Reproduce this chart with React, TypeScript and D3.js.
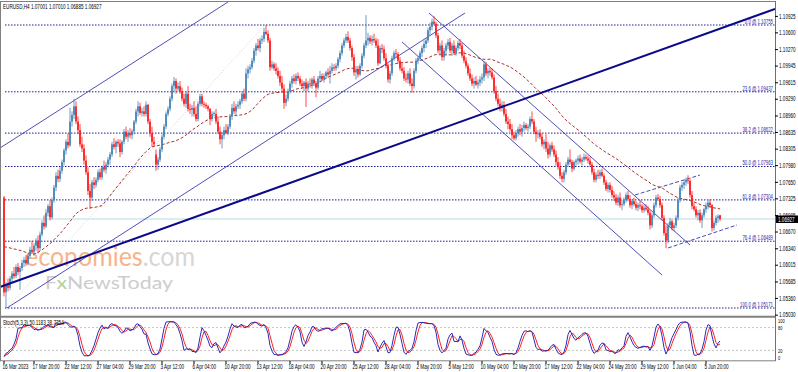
import React from 'react';
import * as d3 from 'd3';

// EURUSD H4 bars, one string per trading day (15 Mar .. 7 Jun 2023)
// each bar is "open high low close" in pips above 1.0000
const days: string[] = [
  '735 738 540 548|548 568 517 562|562 575 550 557|557 580 552 575',
  '575 590 568 585|585 598 575 580|580 603 576 598|598 606 582 588|588 600 553 596|596 612 590 606',
  '606 618 598 612|612 622 600 605|605 625 602 620|620 638 615 632|632 650 625 628|628 645 620 640',
  '640 655 630 650|650 660 625 635|635 668 630 662|662 690 658 685|685 700 672 678|678 712 675 705',
  '705 722 698 718|718 730 690 696|696 735 692 730|730 760 725 755|755 785 748 778|778 790 765 772',
  '772 795 766 788|788 810 782 805|805 832 798 828|828 850 820 845|845 862 832 838|838 912 835 885',
  '885 905 875 898|898 930 890 915|915 925 880 885|885 895 860 868|868 880 835 840|840 855 825 832',
  '832 840 800 808|808 818 780 785|785 795 740 748|748 762 713 735|735 770 728 765|765 775 752 760',
  '760 775 755 770|770 790 765 785|785 792 770 775|775 798 770 795|795 808 785 790|790 805 782 800',
  '800 815 795 810|810 825 800 820|820 845 815 840|840 852 830 835|835 848 822 845|845 850 835 842',
  '842 850 815 825|825 848 820 845|845 870 840 865|865 875 850 855|855 868 845 862|862 872 852 858',
  '858 870 850 866|866 888 860 885|885 910 880 905|905 925 895 915|915 922 898 902|902 912 895 905',
  '905 915 895 900|900 925 895 918|918 920 880 885|885 890 855 862|862 875 835 845|845 855 835 840',
  '820 830 788 800|800 815 790 810|810 835 805 830|830 860 825 855|855 880 850 875|875 905 870 900',
  '900 915 895 910|910 935 905 930|930 960 925 955|955 973 945 965|965 970 940 950|950 962 945 955',
  '955 965 940 945|945 952 925 930|930 940 915 920|920 945 912 940|940 955 905 910|910 920 900 908',
  '908 918 895 912|912 925 895 900|900 915 885 890|890 925 885 920|920 940 915 935|935 940 915 920',
  '920 925 912 918|918 922 910 915|915 918 905 910|910 912 878 890|890 905 885 900|900 905 895 902',
  '900 910 880 885|885 895 860 865|865 875 840 850|850 865 832 858|858 875 850 868|868 880 860 862',
  '862 880 858 875|875 900 870 895|895 920 888 912|912 925 900 905|905 920 895 915|915 925 910 918',
  '918 930 910 925|925 945 920 940|940 950 925 930|930 990 925 980|980 995 970 988|988 998 980 992',
  '992 1010 988 1005|1005 1030 1000 1025|1025 1040 1015 1035|1035 1048 1025 1030|1030 1050 1022 1045|1045 1055 1038 1048',
  '1048 1070 1042 1062|1062 1076 1055 1058|1058 1065 1040 1045|1045 1050 985 992|992 1005 988 998|998 1002 985 990',
  '990 1000 978 985|985 992 970 975|975 985 955 962|962 975 945 950|950 958 910 922|922 938 915 930',
  '930 950 925 945|945 965 940 960|960 975 952 970|970 978 960 965|965 980 958 975|975 982 965 970',
  '970 975 955 960|960 968 950 955|955 965 945 962|962 970 914 950|950 965 945 960|960 970 952 958',
  '958 972 950 968|968 975 955 960|960 965 933 952|952 975 948 970|970 985 962 975|975 980 965 968',
  '968 980 962 975|975 985 970 982|982 990 972 978|978 995 960 985|985 1000 980 992|992 998 985 990',
  '990 1000 985 995|995 1012 990 1008|1008 1025 1002 1020|1020 1040 1015 1035|1035 1050 1030 1045|1045 1058 1040 1052',
  '1052 1063 1040 1045|1045 1050 1025 1030|1030 1035 1005 1012|1012 1018 975 982|982 995 968 988|988 995 972 978',
  '978 1000 975 995|995 1020 990 1015|1015 1040 1010 1035|1035 1095 1030 1045|1045 1060 1035 1050|1050 1055 1038 1043',
  '1043 1055 1035 1048|1048 1058 1040 1045|1045 1050 1030 1035|1035 1048 995 1000|1000 1035 998 1030|1030 1038 1020 1028',
  '1028 1035 1005 1010|1010 1020 990 995|995 1000 962 968|968 985 960 980|980 1015 975 1010|1010 1025 1005 1020',
  '1020 1028 1012 1018|1018 1022 1000 1005|1005 1012 985 990|990 1000 980 985|985 992 965 970|970 980 962 968',
  '968 985 960 980|980 990 955 960|960 970 942 955|955 990 950 985|985 1010 980 1005|1005 1015 998 1010',
  '1010 1025 1005 1020|1020 1035 1012 1030|1030 1045 1022 1038|1038 1050 1030 1045|1045 1070 1040 1065|1065 1080 1055 1072',
  '1072 1088 1065 1082|1082 1093 1075 1078|1078 1082 1050 1055|1055 1060 1020 1025|1025 1040 1015 1035|1035 1045 1005 1012',
  '1012 1030 1005 1025|1025 1040 1015 1035|1035 1048 1028 1042|1042 1050 1020 1025|1025 1040 1015 1035|1035 1045 1018 1020',
  '1020 1035 1015 1030|1030 1045 1025 1040|1040 1048 1028 1035|1035 1040 1010 1015|1015 1025 1000 1005|1005 1012 990 995',
  '995 1000 975 980|980 990 965 970|970 978 955 960|960 972 950 965|965 975 955 958|958 968 950 962',
  '962 975 955 968|968 980 960 972|972 1005 965 998|998 1003 975 980|980 990 970 985|985 992 975 982',
  '982 990 968 972|972 978 940 945|945 955 925 930|930 940 915 920|920 930 905 912|912 925 905 918',
  '918 925 895 900|900 910 880 885|885 895 870 880|880 890 865 870|870 880 850 858|858 865 848 852',
  '852 868 848 862|862 875 855 870|870 880 858 865|865 878 855 872|872 885 865 878|878 882 868 872',
  '872 880 865 875|875 895 870 890|890 905 880 885|885 890 860 865|865 875 845 860|860 868 852 862',
  '862 870 850 855|855 862 835 840|840 850 830 845|845 860 825 832|832 845 812 820|820 842 815 838',
  '838 845 825 830|830 838 815 820|820 828 798 805|805 815 790 795|795 805 772 778|778 785 765 772',
  '772 790 765 785|785 805 780 800|800 815 795 810|810 830 800 805|805 810 785 792|792 808 788 805',
  '805 812 798 808|808 818 800 812|812 820 802 806|806 815 798 810|810 822 805 815|815 820 808 812',
  '812 818 802 808|808 815 795 800|800 805 780 785|785 792 765 770|770 785 765 780|780 790 772 778',
  '778 790 772 785|785 792 775 778|778 782 760 765|765 770 748 752|752 765 745 760|760 765 745 750',
  '750 758 735 740|740 748 728 735|735 742 720 725|725 740 718 735|735 745 715 720|720 730 710 722',
  '722 735 718 730|730 745 725 740|740 748 728 732|732 740 715 720|720 732 712 728|728 735 718 722',
  '722 728 710 715|715 725 708 720|720 728 712 718|718 722 705 710|710 720 705 715|715 722 708 712',
  '712 718 700 705|705 710 672 680|680 705 675 700|700 725 695 720|720 740 715 735|735 742 728 732',
  '732 738 715 720|720 725 690 695|695 700 660 665|665 680 635 650|650 685 645 680|680 695 675 688',
  '688 692 670 675|675 685 668 680|680 700 675 695|695 735 690 730|730 760 725 755|755 765 748 760',
  '760 770 752 765|765 775 758 770|770 779 762 768|768 772 735 740|740 748 712 718|718 725 708 712',
  '712 718 695 700|700 710 690 705|705 712 685 690|690 705 675 700|700 715 695 712|712 725 705 718',
  '718 730 712 725|725 732 715 720|720 722 668 675|675 690 670 685|685 700 680 695|695 702 685 698',
  '700.1 701.0 688.5 692.7',
];

// closes of the bars before the first visible one (needed by the 50 bar SMA)
const priorCloses =
  '600 605 615 630 632 635 640 648 655 685 682 680 675 670 660 560 548 545 550 548 552 545 548 ' +
  '550 560 575 580 582 580 578 590 605 640 645 640 660 690 720 730 725 720 715 730 740 745 730 732 740 745';

const maPeriod = 50;

const fibLevels = [
  { pct: '0.0', price: 1.10755 },
  { pct: '23.6', price: 1.09437 },
  { pct: '38.2', price: 1.08622 },
  { pct: '50.0', price: 1.07963 },
  { pct: '61.8', price: 1.07304 },
  { pct: '76.4', price: 1.06489 },
  { pct: '100.0', price: 1.05171 },
];

const priceTicks = [
  1.10925, 1.106, 1.1027, 1.09945, 1.09615, 1.0929, 1.0896, 1.08635, 1.08305, 1.0798,
  1.0765, 1.07325, 1.06995, 1.0667, 1.0634, 1.06015, 1.05685, 1.0536, 1.0503,
];

const timeLabels: [number, string][] = [
  [0, '16 Mar 2023'], [15, '17 Mar 20:00'], [31, '22 Mar 12:00'], [47, '27 Mar 04:00'],
  [63, '29 Mar 20:00'], [79, '3 Apr 12:00'], [95, '6 Apr 04:00'], [111, '10 Apr 20:00'],
  [127, '13 Apr 12:00'], [143, '18 Apr 04:00'], [159, '20 Apr 20:00'], [175, '25 Apr 12:00'],
  [191, '28 Apr 04:00'], [207, '2 May 20:00'], [223, '5 May 12:00'], [239, '10 May 04:00'],
  [255, '12 May 20:00'], [271, '17 May 12:00'], [287, '22 May 04:00'], [303, '24 May 20:00'],
  [319, '29 May 12:00'], [335, '1 Jun 04:00'], [351, '5 Jun 20:00'],
];

const stochLevels = [100, 80, 20, 0];

// drawn objects: anchors as [bar index, price]
const thickTrend = [[-2, 1.05585], [385.5, 1.11071]];
const riseLower = [[1.5, 1.05171], [230.5, 1.10992]];
const riseUpper = [[-2, 1.08328], [112, 1.11209]];
const fallUpper = [[212.5, 1.10992], [343, 1.06414]];
const fallLower = [[199, 1.1042], [329, 1.05822]];
const wedgeUpper = [[315.5, 1.07401], [348, 1.07795]];
const wedgeLower = [[332, 1.06355], [366.5, 1.06809]];
const fibDiagonal = [[1.5, 1.05171], [130.5, 1.10755]];

const header = 'EURUSD,H4  1.07001 1.07010 1.06885 1.06927';
const stochTitle = 'Stoch(5,3,3) 50.1183 38.7354';
const lastPrice = 1.06927;

const Txt = ({ x, y, size = 7, anchor = 'start', fill = '#000', sx = 0.66, children }: any) => (
  <text transform={`translate(${x},${y}) scale(${sx},1)`} fontSize={size} textAnchor={anchor} fill={fill}>
    {children}
  </text>
);

export default function App() {
  const toPrice = (s: string) => 1 + Number(s) / 10000;
  const bars = days.flatMap(d =>
    d.split('|').map(b => {
      const [o, h, l, c] = b.trim().split(/\s+/).map(toPrice);
      return { o, h, l, c };
    })
  );
  const n = bars.length;

  const axisX = 775;
  const x = d3.scaleLinear().domain([0, n - 1]).range([4, 720]);
  const y = d3.scaleLinear()
    .domain([fibLevels[fibLevels.length - 1].price, fibLevels[0].price])
    .range([308, 25]);
  const ys = d3.scaleLinear().domain([0, 100]).range([358, 320]);

  // 50 bar simple moving average on close
  const closes = priorCloses.trim().split(/\s+/).map(toPrice).concat(bars.map(b => b.c));
  const off = closes.length - n;
  const ma = bars.map((_, i) => d3.mean(closes.slice(i + off - maPeriod + 1, i + off + 1)) as number);

  // stochastic 5,3,3
  const ll = bars.map((_, i) => d3.min(bars.slice(Math.max(0, i - 4), i + 1), b => b.l) as number);
  const hh = bars.map((_, i) => d3.max(bars.slice(Math.max(0, i - 4), i + 1), b => b.h) as number);
  const kMain = bars.map((_, i) => {
    const js = d3.range(Math.max(0, i - 2), i + 1);
    const num = d3.sum(js, j => bars[j].c - ll[j]);
    const den = d3.sum(js, j => hh[j] - ll[j]);
    return den ? (num / den) * 100 : 50;
  });
  const kSignal = kMain.map((_, i) => d3.mean(kMain.slice(Math.max(0, i - 2), i + 1)) as number);

  const maLine = d3.line<number>().x((_, i) => x(i)).y(d => y(d));
  const stLine = d3.line<number>().x((_, i) => x(i)).y(d => ys(d));

  const seg = (pts: number[][]) => ({
    x1: x(pts[0][0]), y1: y(pts[0][1]), x2: x(pts[1][0]), y2: y(pts[1][1]),
  });

  return (
    <svg
      width={798}
      height={372}
      style={{ position: 'absolute', left: 0, top: 0, background: '#fff' }}
      fontFamily="'Liberation Sans', Arial, sans-serif"
    >
      <defs>
        <clipPath id="mainClip"><rect x={1} y={2} width={axisX - 1} height={314} /></clipPath>
        <clipPath id="stochClip"><rect x={1} y={318} width={axisX - 1} height={42} /></clipPath>
      </defs>
      <rect x={0} y={0} width={798} height={372} fill="#fff" />

      {/* watermark */}
      <text x={25} y={266} fontSize={27} fontFamily="Lato, 'Open Sans', sans-serif" textLength={170} lengthAdjust="spacingAndGlyphs">
        <tspan fill="#f7b48c">economies</tspan>
        <tspan fill="#d6d6d6">.com</tspan>
      </text>
      <text x={45} y={289} fontSize={18} fontFamily="Lato, 'Open Sans', sans-serif" textLength={128} lengthAdjust="spacingAndGlyphs">
        <tspan fill="#cdcdcd">F</tspan>
        <tspan fill="#a9d49c">x</tspan>
        <tspan fill="#cdcdcd">NewsToday</tspan>
      </text>

      <g clipPath="url(#mainClip)">
        {/* bid line */}
        <line x1={0} x2={axisX} y1={y(lastPrice)} y2={y(lastPrice)} stroke="#b4dde3" strokeWidth={1} />

        {/* fibonacci levels */}
        {fibLevels.map(f => (
          <line key={f.pct} x1={x(0.5)} x2={axisX} y1={y(f.price)} y2={y(f.price)}
            stroke="#1c1c96" strokeWidth={1} strokeDasharray="1.5,1.5" />
        ))}
        <line {...seg(fibDiagonal)} stroke="#cfcfcf" strokeWidth={1} strokeDasharray="1,2" />

        {/* moving average */}
        <path d={maLine(ma) || ''} fill="none" stroke="#a8342c" strokeWidth={1} strokeDasharray="3,2" />

        {/* trend lines and channels */}
        <line {...seg(riseLower)} stroke="#3b3bb0" strokeWidth={0.9} />
        <line {...seg(riseUpper)} stroke="#3b3bb0" strokeWidth={0.9} />
        <line {...seg(fallUpper)} stroke="#3b3bb0" strokeWidth={0.9} />
        <line {...seg(fallLower)} stroke="#3b3bb0" strokeWidth={0.9} />
        <line {...seg(wedgeUpper)} stroke="#4a4ac0" strokeWidth={1} strokeDasharray="4,2" />
        <line {...seg(wedgeLower)} stroke="#4a4ac0" strokeWidth={1} strokeDasharray="4,2" />

        {/* candles */}
        {bars.map((b, i) => {
          const col = b.c >= b.o ? '#4682b4' : '#ff1a1a';
          const top = y(Math.max(b.o, b.c));
          const bot = y(Math.min(b.o, b.c));
          return (
            <g key={i}>
              <line x1={x(i)} x2={x(i)} y1={y(b.h)} y2={y(b.l)} stroke={col} strokeWidth={0.8} />
              <rect x={x(i) - 0.85} y={top} width={1.7} height={Math.max(0.8, bot - top)} fill={col} />
            </g>
          );
        })}

        <line {...seg(thickTrend)} stroke="#0a0a8a" strokeWidth={2} />

        {/* fibonacci labels */}
        {fibLevels.map(f => (
          <Txt key={f.pct} x={773} y={y(f.price) - 1.2} size={6.5} anchor="end" fill="#2a2aa8">
            {`${f.pct} @ ${f.price.toFixed(5)}`}
          </Txt>
        ))}
      </g>

      <Txt x={3} y={9}>{header}</Txt>

      {/* stochastic window */}
      <g clipPath="url(#stochClip)">
        {[80, 20].map(v => (
          <line key={v} x1={0} x2={axisX} y1={ys(v)} y2={ys(v)} stroke="#c4c4c4" strokeWidth={1} strokeDasharray="2,2" />
        ))}
        <path d={stLine(kSignal) || ''} fill="none" stroke="#ff2020" strokeWidth={1} />
        <path d={stLine(kMain) || ''} fill="none" stroke="#2b2bb8" strokeWidth={1} />
      </g>
      <Txt x={3} y={325}>{stochTitle}</Txt>

      {/* frame */}
      <line x1={0} x2={axisX} y1={1.5} y2={1.5} stroke="#808080" />
      <line x1={0.5} x2={0.5} y1={1} y2={361} stroke="#808080" />
      <line x1={0} x2={axisX} y1={316.8} y2={316.8} stroke="#808080" strokeWidth={2} />
      <line x1={0} x2={axisX + 0.5} y1={360.8} y2={360.8} stroke="#808080" />
      <line x1={axisX + 0.5} x2={axisX + 0.5} y1={1} y2={361} stroke="#707070" />

      {/* price axis */}
      {priceTicks.map(p => (
        <g key={p}>
          <line x1={axisX} x2={axisX + 3} y1={y(p)} y2={y(p)} stroke="#000" />
          <Txt x={779} y={y(p) + 2.2}>{p.toFixed(5)}</Txt>
        </g>
      ))}
      <rect x={776} y={y(lastPrice) - 3.5} width={22} height={7.5} fill="#000" />
      <Txt x={778} y={y(lastPrice) + 2.5} fill="#fff">{lastPrice.toFixed(5)}</Txt>

      {stochLevels.map(v => (
        <Txt key={v} x={778} y={ys(v) + (v === 100 ? 3 : v === 0 ? 1.5 : 2.2)} size={6}>{v}</Txt>
      ))}

      {/* time axis */}
      {timeLabels.map(([i, s]) => (
        <g key={s}>
          <line x1={x(i)} x2={x(i)} y1={361} y2={364} stroke="#000" />
          <Txt x={x(i) - 1.5} y={368.5}>{s}</Txt>
        </g>
      ))}
    </svg>
  );
}
